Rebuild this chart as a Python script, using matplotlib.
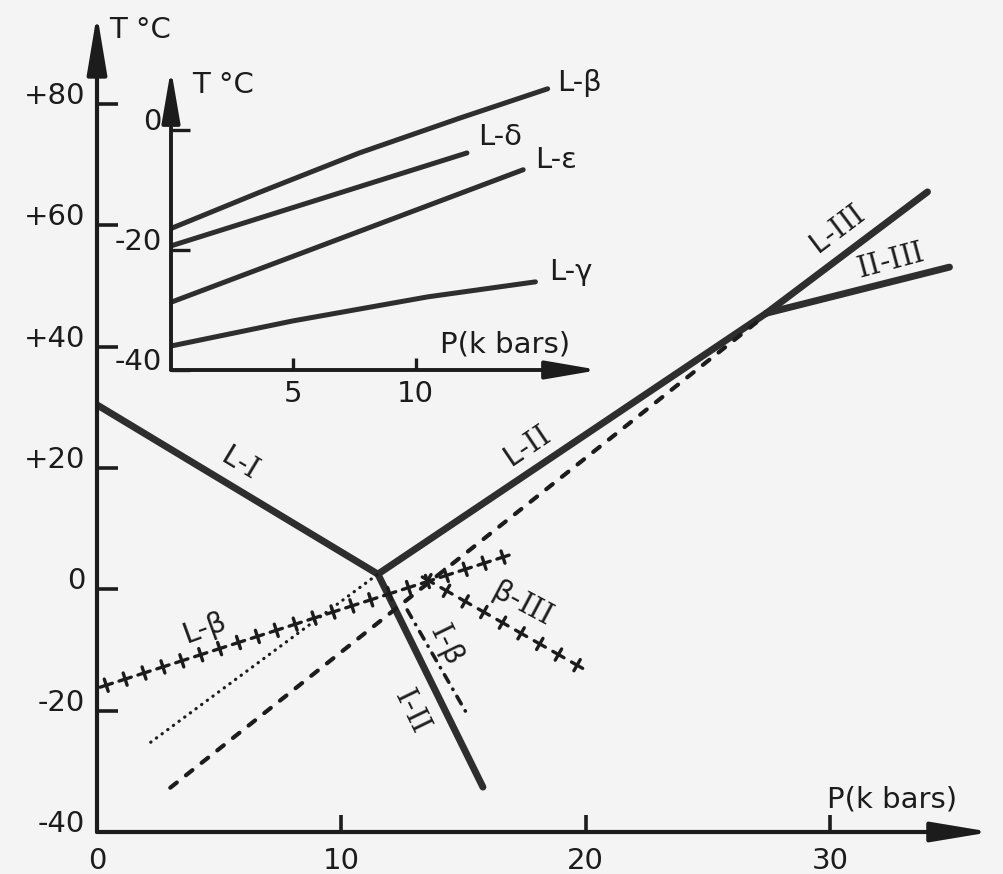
import matplotlib
matplotlib.use('Agg')
import matplotlib.pyplot as plt
import matplotlib.patheffects as pe

plt.rcParams['font.family'] = ['DejaVu Sans']
plt.rcParams['mathtext.fontset'] = 'dejavuserif'

ink = '#1c1c1c'
line_ink = '#2e2e2e'
paper = '#f4f4f4'

# ---- main diagram: P in kbar, T in degC ----
p_L_I = [0, 11.5]
t_L_I = [30.4, 2.5]
p_L_II = [11.5, 27.4]
t_L_II = [2.5, 45.5]
p_L_III = [27.4, 34.0]
t_L_III = [45.5, 65.5]
p_II_III = [27.4, 34.9]
t_II_III = [45.5, 53.1]
p_I_II = [11.5, 15.8]
t_I_II = [2.5, -32.6]
p_dash = [3.0, 27.0]
t_dash = [-32.7, 44.0]
p_dot = [2.2, 11.5]
t_dot = [-25.2, 2.5]
p_L_beta = [0, 17.0]
t_L_beta = [-16.3, 5.8]
p_beta_III = [13.2, 20.0]
t_beta_III = [2.3, -13.3]
p_I_beta = [12.7, 15.1]
t_I_beta = [-3.4, -20.2]

main_xticks = [0, 10, 20, 30]
main_xlabels = ['0', '10', '20', '30']
main_yticks = [-40, -20, 0, 20, 40, 60, 80]
main_ylabels = ['-40', '-20', '0', '+20', '+40', '+60', '+80']

# ---- inset: metastable melting curves ----
p_in_beta = [0, 3.6, 7.7, 11.8, 15.4]
t_in_beta = [-16.4, -10.4, -3.8, 2.0, 6.9]
p_in_delta = [0, 12.1]
t_in_delta = [-19.3, -3.8]
p_in_eps = [0, 14.4]
t_in_eps = [-28.7, -6.6]
p_in_gamma = [0, 5.0, 10.5, 14.9]
t_in_gamma = [-36.0, -31.8, -27.8, -25.3]

ins_xticks = [5, 10]
ins_xlabels = ['5', '10']
ins_yticks = [-40, -20, 0]
ins_ylabels = ['-40', '-20', '0']

fs = 21

fig = plt.figure(figsize=(10.04, 8.74), dpi=100)
fig.patch.set_facecolor(paper)

# main axes
ax = fig.add_axes([97 / 1004, 42 / 874, 894 / 1004, 810 / 874])
ax.set_xlim(0, 36.6)
ax.set_ylim(-40, 93.5)
ax.patch.set_alpha(0)
for s in ax.spines.values():
    s.set_visible(False)
ax.set_xticks(main_xticks)
ax.set_xticklabels(main_xlabels)
ax.set_yticks(main_yticks)
ax.set_yticklabels(main_ylabels)
ax.tick_params(axis='y', direction='in', length=15, width=2.6, pad=8.5,
               labelsize=fs, color=ink, labelcolor=ink)
ax.tick_params(axis='x', direction='in', length=12, width=2.6, pad=11,
               labelsize=fs, color=ink, labelcolor=ink)
for lab in ax.get_yticklabels():
    lab.set_verticalalignment('baseline')

arrow = dict(arrowstyle='-|>,head_length=3.6,head_width=0.6', lw=3,
             color=ink, shrinkA=0, shrinkB=0, mutation_scale=10)
ax.annotate('', xy=(0, 1.01), xytext=(0, 0), xycoords='axes fraction',
            arrowprops=arrow, annotation_clip=False)
ax.annotate('', xy=(1, 0), xytext=(0, 0), xycoords='axes fraction',
            arrowprops=arrow, annotation_clip=False)

solid = dict(color=line_ink, lw=5, solid_capstyle='round')
ax.plot(p_L_I, t_L_I, **solid)
ax.plot(p_L_II, t_L_II, **solid)
ax.plot(p_L_III, t_L_III, **solid)
ax.plot(p_II_III, t_II_III, **solid)
ax.plot(p_I_II, t_I_II, **solid)

ax.plot(p_dash, t_dash, color=ink, lw=3, linestyle=(0, (2, 2.8)),
        dash_capstyle='round')
ax.plot(p_dot, t_dot, color=ink, lw=2.3, linestyle=(0, (0.1, 2.1)),
        dash_capstyle='round')
ax.plot(p_I_beta, t_I_beta, color=ink, lw=2.6,
        linestyle=(0, (2.4, 2.2, 0.1, 2.2)), dash_capstyle='round')

# crossed lines drawn as four-way ticks along the path
cross = [pe.TickedStroke(spacing=14, angle=a, length=0.33)
         for a in (0, 90, 180, 270)]
ax.plot(p_L_beta, t_L_beta, color=ink, lw=2.4, solid_capstyle='round',
        path_effects=cross)
ax.plot(p_beta_III, t_beta_III, color=ink, lw=2.4, solid_capstyle='round',
        path_effects=cross)

lbl = dict(fontsize=fs, color=ink, ha='center', va='center',
           rotation_mode='anchor')
ax.text(5.85, 21.0, r'L-$\mathrm{I}$', rotation=-31, **lbl)
ax.text(17.6, 23.3, r'L-$\mathrm{II}$', rotation=34, **lbl)
ax.text(30.3, 59.2, r'L-$\mathrm{III}$', rotation=37, **lbl)
ax.text(32.5, 54.0, r'$\mathrm{II}$-$\mathrm{III}$', rotation=15, **lbl)
ax.text(4.4, -6.4, 'L-β', rotation=20, **lbl)
ax.text(17.4, -2.3, r'β-$\mathrm{III}$', rotation=-28, **lbl)
ax.text(14.3, -8.8, r'$\mathrm{I}$-β', rotation=-64, **lbl)
ax.text(12.9, -19.9, r'$\mathrm{I}$-$\mathrm{II}$', rotation=-64, **lbl)

ax.text(0.5, 92.2, 'T °C', fontsize=fs, color=ink, ha='left', va='center')
ax.text(29.9, -34.7, 'P(k bars)', fontsize=fs, color=ink, ha='left',
        va='center')

# inset axes
axi = fig.add_axes([171 / 1004, 504 / 874, 428 / 1004, 298 / 874])
axi.set_xlim(0, 17.5)
axi.set_ylim(-40, 9.7)
axi.patch.set_alpha(0)
for s in axi.spines.values():
    s.set_visible(False)
axi.set_xticks(ins_xticks)
axi.set_xticklabels(ins_xlabels)
axi.set_yticks(ins_yticks)
axi.set_yticklabels(ins_ylabels)
axi.tick_params(axis='y', direction='in', length=14, width=2.4, pad=6.5,
                labelsize=fs, color=ink, labelcolor=ink)
axi.tick_params(axis='x', direction='in', length=9, width=2.4, pad=7,
                labelsize=fs, color=ink, labelcolor=ink)
for lab in axi.get_yticklabels():
    lab.set_verticalalignment('baseline')

arrow_in = dict(arrowstyle='-|>,head_length=3.2,head_width=0.55', lw=2.8,
                color=ink, shrinkA=0, shrinkB=0, mutation_scale=10)
axi.annotate('', xy=(0, 1.01), xytext=(0, 0), xycoords='axes fraction',
             arrowprops=arrow_in, annotation_clip=False)
axi.annotate('', xy=(1, 0), xytext=(0, 0), xycoords='axes fraction',
             arrowprops=arrow_in, annotation_clip=False)

thin = dict(color=line_ink, lw=3.6, solid_capstyle='round',
            solid_joinstyle='round')
axi.plot(p_in_beta, t_in_beta, **thin)
axi.plot(p_in_delta, t_in_delta, **thin)
axi.plot(p_in_eps, t_in_eps, **thin)
axi.plot(p_in_gamma, t_in_gamma, **thin)

ilbl = dict(fontsize=fs, color=ink, ha='left', va='center')
axi.text(15.8, 7.9, 'L-β', **ilbl)
axi.text(12.55, -1.1, 'L-δ', **ilbl)
axi.text(14.9, -5.0, 'L-ε', **ilbl)
axi.text(15.45, -23.7, 'L-γ', **ilbl)
axi.text(0.86, 7.5, 'T °C', **ilbl)
axi.text(11.0, -35.8, 'P(k bars)', **ilbl)

fig.savefig('out.png', dpi=100, facecolor=paper)
